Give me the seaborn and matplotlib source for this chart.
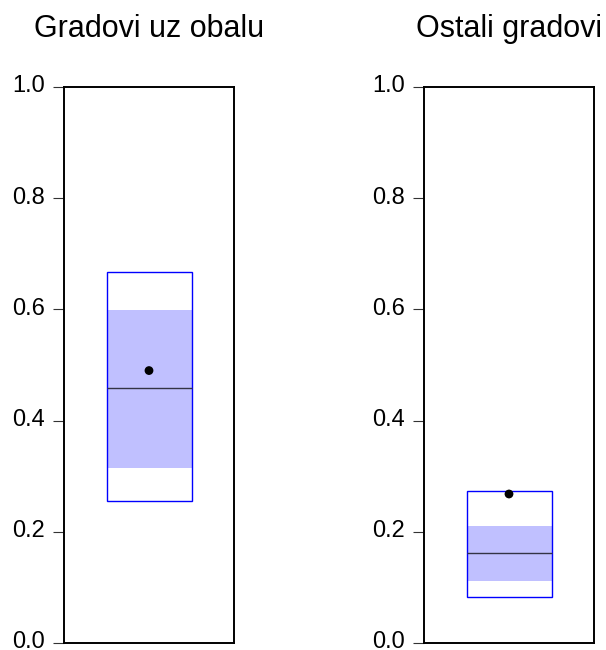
import numpy as np
import matplotlib
matplotlib.use("Agg")
import matplotlib.pyplot as plt
import matplotlib.transforms as mtransforms
import seaborn as sns
import pandas as pd

# Box summary values (EViews-style boxplots)
groups = ['Gradovi uz obalu', 'Ostali gradovi']
outer_low = [0.255, 0.082]
outer_high = [0.667, 0.274]
q1 = [0.315, 0.112]
q3 = [0.599, 0.211]
median = [0.458, 0.162]
mean = [0.490, 0.268]
yticks = [0.0, 0.2, 0.4, 0.6, 0.8, 1.0]

sns.set_style("white")
plt.rcParams['font.family'] = ['Liberation Sans', 'DejaVu Sans']
plt.rcParams['text.color'] = 'black'
plt.rcParams['ytick.color'] = 'black'

fig = plt.figure(figsize=(6.06, 6.5), dpi=100)
lefts = [64 / 606, 424 / 606]

for i, name in enumerate(groups):
    ax = fig.add_axes([lefts[i], 7 / 650, 170 / 606, 556 / 650])
    # shaded inter-quartile band
    ax.bar([0], [q3[i] - q1[i]], bottom=[q1[i]], width=1.0,
           color='#c0c0ff', edgecolor='none', zorder=1)
    # outer box
    ax.bar([0], [outer_high[i] - outer_low[i]], bottom=[outer_low[i]], width=1.0,
           fill=False, edgecolor='#0000ff', linewidth=1.0, zorder=2)
    # median line
    ax.hlines(median[i], -0.5, 0.5, color='#333344', linewidth=1.0, zorder=3)
    # mean point
    sns.scatterplot(x=[0], y=[mean[i]], ax=ax, color='black', s=40,
                    edgecolor='none', zorder=4)

    ax.set_xlim(-1, 1)
    ax.set_ylim(0, 1)
    ax.set_xticks([])
    ax.set_yticks(yticks)
    ax.set_yticklabels([f'{t:.1f}' for t in yticks])
    ax.tick_params(axis='y', direction='out', length=8, width=0.8,
                   pad=6, labelsize=17, left=True, color='#333333',
                   labelcolor='black')
    # labels sit a little above their ticks in the original
    shift = mtransforms.ScaledTranslation(0, 3 / 100, fig.dpi_scale_trans)
    for lab in ax.get_yticklabels():
        lab.set_transform(lab.get_transform() + shift)
    for sp in ax.spines.values():
        sp.set_visible(True)
        sp.set_color('black')
        sp.set_linewidth(1.4)
    ax.set_title(name, fontsize=22, pad=36, color='black')

fig.savefig('out.png', dpi=100)
